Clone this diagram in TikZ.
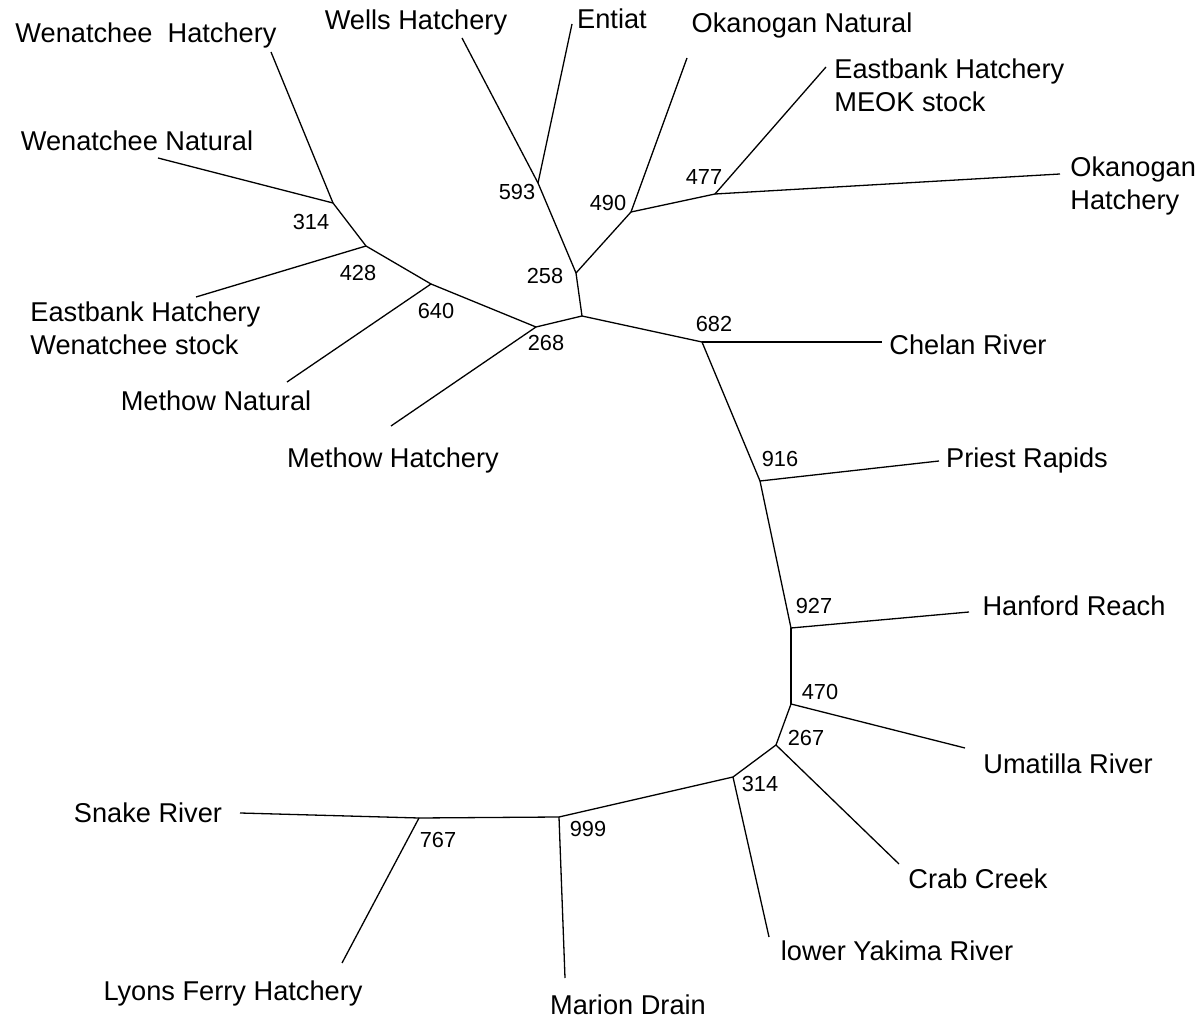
\documentclass[tikz,border=0pt]{standalone}
\usepackage{fontspec}
\setmainfont{Liberation Sans}
\begin{document}
\begin{tikzpicture}[
                x=0.5pt, y=-0.5pt,
                branch/.style={line width=0.65pt},
                leaf/.style={font=\fontsize{13.6}{16.5}\selectfont, inner sep=0pt, align=left},
                boot/.style={font=\fontsize{10.9}{12}\selectfont, inner sep=0pt}
            ]
            \useasboundingbox (0,0) rectangle (1201,1021);

            % Noeuds internes
            \coordinate (r) at (582,316);
            \coordinate (n268) at (536,327);
            \coordinate (n640) at (431,284);
            \coordinate (n428) at (366,246);
            \coordinate (n314w) at (333,203);
            \coordinate (n258) at (576,273);
            \coordinate (n593) at (538,183);
            \coordinate (n490) at (631,212);
            \coordinate (n477) at (715,194);
            \coordinate (n682) at (702,342);
            \coordinate (n916) at (760,481);
            \coordinate (n927) at (791,628);
            \coordinate (n470) at (791,704);
            \coordinate (n267) at (776,745);
            \coordinate (n314y) at (733,777);
            \coordinate (n999) at (559,817);
            \coordinate (n767) at (419,818);

            % Extremites des feuilles
            \coordinate (wenh) at (271,52);
            \coordinate (wenn) at (158,158);
            \coordinate (ebw) at (196,297);
            \coordinate (methn) at (287,382);
            \coordinate (methh) at (391,426);
            \coordinate (wells) at (462,38);
            \coordinate (entiat) at (572,24);
            \coordinate (okn) at (687,58);
            \coordinate (meok) at (826,67);
            \coordinate (okh) at (1060,174);
            \coordinate (chelan) at (882,342);
            \coordinate (priest) at (939,461);
            \coordinate (hanford) at (969,612);
            \coordinate (umatilla) at (965,748);
            \coordinate (crab) at (899,864);
            \coordinate (yakima) at (769,937);
            \coordinate (marion) at (565,978);
            \coordinate (snake) at (240,813);
            \coordinate (lyons) at (342,963);

            % Branches
            \foreach \a/\b in {n314w/wenh, n314w/wenn, n314w/n428, n428/ebw, n428/n640,
                n640/methn, n640/n268, n268/methh, n268/r, r/n258, n258/n593,
                n593/wells, n593/entiat, n258/n490, n490/okn, n490/n477, n477/meok,
                n477/okh, r/n682, n682/chelan, n682/n916, n916/priest, n916/n927,
                n927/hanford, n927/n470, n470/umatilla, n470/n267, n267/crab,
                n267/n314y, n314y/yakima, n314y/n999, n999/marion, n999/n767,
                n767/snake, n767/lyons}
                \draw[branch] (\a) -- (\b);

            % Noms des populations
            \node[leaf] (twenh) at (146,35) {Wenatchee~ Hatchery};
            \node[leaf] (twenn) at (137,141) {Wenatchee Natural};
            \node[leaf, anchor=west] (tebw) at (30,328) {Eastbank Hatchery\\Wenatchee stock};
            \node[leaf] (tmethn) at (216,401) {Methow Natural};
            \node[leaf] (tmethh) at (393,460) {Methow Hatchery};
            \node[leaf] (twells) at (416,22) {Wells Hatchery};
            \node[leaf] (tentiat) at (612,19) {Entiat};
            \node[leaf] (tokn) at (802,25) {Okanogan Natural};
            \node[leaf, anchor=west] (tmeok) at (834,85) {Eastbank Hatchery\\MEOK stock};
            \node[leaf, anchor=west] (tokh) at (1070,186) {Okanogan\\Hatchery};
            \node[leaf] (tchelan) at (968,345) {Chelan River};
            \node[leaf] (tpriest) at (1027,460) {Priest Rapids};
            \node[leaf] (thanford) at (1074,606) {Hanford Reach};
            \node[leaf] (tumatilla) at (1068,764) {Umatilla River};
            \node[leaf] (tcrab) at (978,879) {Crab Creek};
            \node[leaf] (tyakima) at (897,951) {lower Yakima River};
            \node[leaf] (tmarion) at (628,1005) {Marion Drain};
            \node[leaf] (tlyons) at (233,993) {Lyons Ferry Hatchery};
            \node[leaf] (tsnake) at (148,813) {Snake River};

            % Valeurs de bootstrap
            \node[boot] (b314w) at (311,222) {314};
            \node[boot] (b428) at (358,273) {428};
            \node[boot] (b640) at (436,311) {640};
            \node[boot] (b268) at (546,343) {268};
            \node[boot] (b593) at (517,192) {593};
            \node[boot] (b258) at (545,276) {258};
            \node[boot] (b490) at (608,203) {490};
            \node[boot] (b477) at (704,177) {477};
            \node[boot] (b682) at (714,324) {682};
            \node[boot] (b916) at (780,459) {916};
            \node[boot] (b927) at (814,606) {927};
            \node[boot] (b470) at (820,692) {470};
            \node[boot] (b267) at (806,738) {267};
            \node[boot] (b314y) at (760,784) {314};
            \node[boot] (b767) at (438,840) {767};
            \node[boot] (b999) at (588,829) {999};
        \end{tikzpicture}
\end{document}
